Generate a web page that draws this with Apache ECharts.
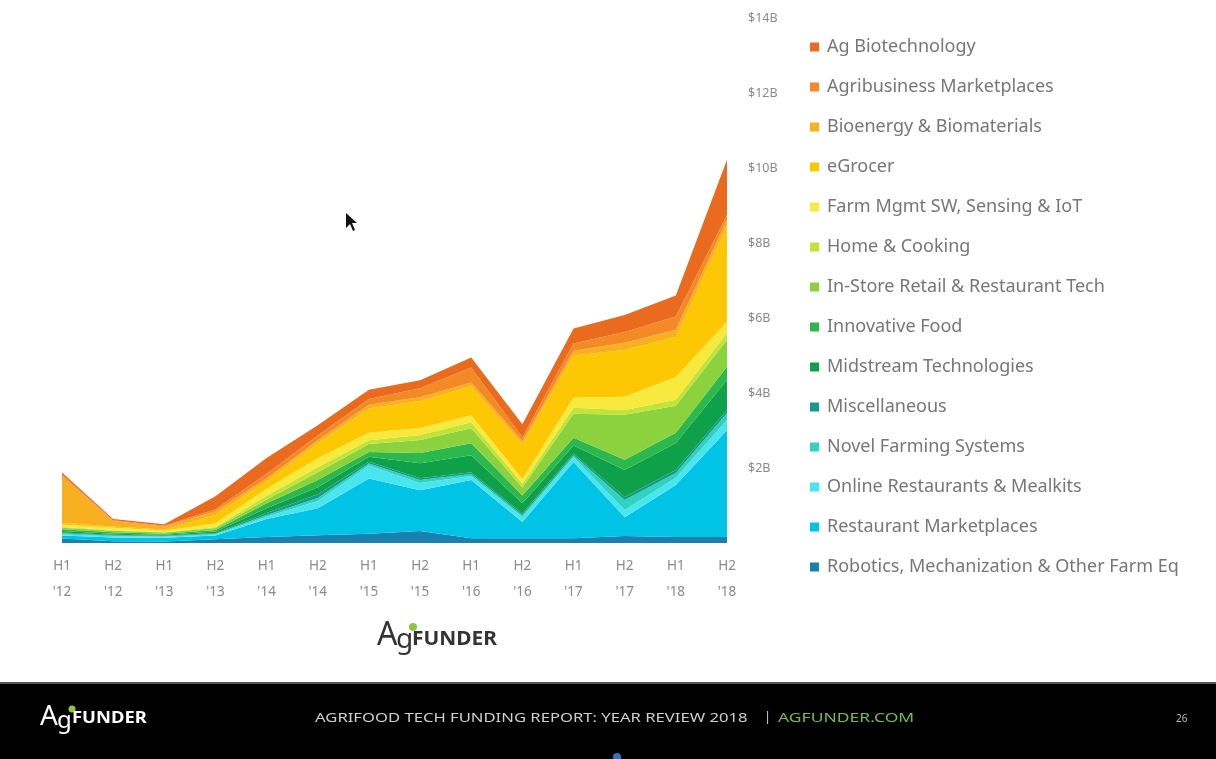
<!DOCTYPE html>
<html>
<head>
<meta charset="utf-8">
<script src="https://cdn.jsdelivr.net/npm/echarts@6/dist/echarts.min.js"></script>
<style>
html,body{margin:0;padding:0;background:#fff;}
#c{width:1216px;height:759px;}
</style>
</head>
<body>
<div id="c"></div>
<script>
// Periods
const periods = ["H1\n'12","H2\n'12","H1\n'13","H2\n'13","H1\n'14","H2\n'14","H1\n'15","H2\n'15","H1\n'16","H2\n'16","H1\n'17","H2\n'17","H1\n'18","H2\n'18"];
// Funding by category, $B (stack order bottom -> top)
const robotics      = [0.12,0.05,0.04,0.10,0.16,0.21,0.25,0.32,0.13,0.13,0.13,0.19,0.16,0.16];
const restaurantMkt = [0.08,0.10,0.10,0.10,0.48,0.72,1.47,1.09,1.55,0.43,2.03,0.50,1.39,2.85];
const onlineRest    = [0.03,0.03,0.03,0.03,0.06,0.19,0.35,0.19,0.11,0.13,0.13,0.19,0.19,0.27];
const novelFarming  = [0.03,0.02,0.02,0.02,0.05,0.08,0.05,0.08,0.05,0.05,0.05,0.27,0.13,0.19];
const misc          = [0.02,0.02,0.01,0.02,0.05,0.10,0.05,0.05,0.05,0.05,0.05,0.08,0.08,0.08];
const midstream     = [0.04,0.03,0.02,0.04,0.13,0.19,0.13,0.40,0.45,0.27,0.21,0.72,0.72,0.80];
const innovFood     = [0.05,0.04,0.03,0.04,0.13,0.19,0.13,0.27,0.32,0.21,0.21,0.27,0.27,0.35];
const inStore       = [0.04,0.04,0.03,0.05,0.10,0.21,0.21,0.35,0.40,0.21,0.64,1.20,0.72,0.72];
const homeCooking   = [0.02,0.02,0.01,0.03,0.10,0.13,0.10,0.13,0.16,0.10,0.16,0.13,0.16,0.19];
const farmMgmt      = [0.06,0.06,0.04,0.10,0.19,0.24,0.20,0.19,0.19,0.13,0.27,0.35,0.61,0.29];
const eGrocer       = [0.05,0.03,0.03,0.22,0.20,0.40,0.65,0.72,0.77,0.93,1.12,1.25,1.07,2.56];
const bioenergy     = [1.25,0.15,0.08,0.10,0.07,0.08,0.10,0.10,0.10,0.08,0.13,0.19,0.19,0.16];
const agribusiness  = [0.04,0.02,0.02,0.05,0.13,0.13,0.15,0.24,0.40,0.10,0.19,0.29,0.35,0.13];
const agBiotech     = [0.05,0.03,0.04,0.35,0.42,0.27,0.25,0.21,0.27,0.35,0.40,0.45,0.56,1.47];
// Axis ticks ($B)
const yTicks = [0,2,4,6,8,10,12,14];

const seriesDefs = [
  ["Robotics, Mechanization & Other Farm Eq", robotics, "#1a80b0"],
  ["Restaurant Marketplaces", restaurantMkt, "#00c3e6"],
  ["Online Restaurants & Mealkits", onlineRest, "#4ae6f0"],
  ["Novel Farming Systems", novelFarming, "#2fd3c2"],
  ["Miscellaneous", misc, "#149a8a"],
  ["Midstream Technologies", midstream, "#0fa04a"],
  ["Innovative Food", innovFood, "#2cb84c"],
  ["In-Store Retail & Restaurant Tech", inStore, "#8cd23e"],
  ["Home & Cooking", homeCooking, "#c2e43a"],
  ["Farm Mgmt SW, Sensing & IoT", farmMgmt, "#f7ea3c"],
  ["eGrocer", eGrocer, "#fdc803"],
  ["Bioenergy & Biomaterials", bioenergy, "#f9b020"],
  ["Agribusiness Marketplaces", agribusiness, "#f48a26"],
  ["Ag Biotechnology", agBiotech, "#ea6a1e"]
];

const chart = echarts.init(document.getElementById('c'), null, {renderer:'canvas'});
const option = {
  backgroundColor: '#ffffff',
  animation: false,
  grid: {left: 62, right: 489, top: 18, bottom: 216, containLabel: false},
  legend: {
    orient: 'vertical',
    left: 805,
    top: 31,
    icon: 'rect',
    itemWidth: 9,
    itemHeight: 9,
    itemGap: 18,
    data: seriesDefs.map(d => d[0]).slice().reverse(),
    textStyle: {fontFamily: 'Noto Sans', fontSize: 18, color: '#767676', lineHeight: 22, padding: [0,0,0,3]}
  },
  xAxis: {
    type: 'category',
    boundaryGap: false,
    data: periods,
    axisLine: {show: false},
    axisTick: {show: false},
    axisLabel: {margin: 10, fontFamily: 'Noto Sans', fontSize: 13.5, color: '#8a8a8a', lineHeight: 26, interval: 0}
  },
  yAxis: {
    type: 'value',
    position: 'right',
    min: yTicks[0],
    max: yTicks[yTicks.length-1],
    interval: 2,
    splitLine: {show: false},
    axisLine: {show: false},
    axisTick: {show: false},
    axisLabel: {
      margin: 21,
      fontFamily: 'Noto Sans', fontSize: 12.5, color: '#8a8a8a',
      formatter: v => v === 0 ? '' : '$' + v + 'B'
    }
  },
  series: seriesDefs.map(d => ({
    name: d[0],
    type: 'line',
    stack: 'total',
    data: d[1],
    showSymbol: false,
    symbol: 'none',
    lineStyle: {width: 0},
    areaStyle: {color: d[2], opacity: 1},
    itemStyle: {color: d[2]},
    emphasis: {disabled: true}
  })),
  graphic: [
    // mouse cursor
    {type: 'polygon', shape: {points: [[346,213],[346,228],[350,224],[353,231],[355,230],[352,223],[357,223]]}, style: {fill: '#111'}},
    // AgFunder logo below chart
    {type: 'text', x: 377, y: 620, style: {text: 'A', font: '32px "Noto Sans"', fill: '#333'}},
    {type: 'text', x: 396, y: 626, style: {text: 'g', font: '28px "Noto Sans"', fill: '#333'}},
    {type: 'circle', shape: {cx: 413, cy: 627, r: 4}, style: {fill: '#8cc63f'}},
    {type: 'text', x: 412, y: 630, scaleX: 1.1, style: {text: 'FUNDER', font: 'bold 19px "Noto Sans"', fill: '#333'}},
    // footer band
    {type: 'rect', shape: {x: 0, y: 683, width: 1216, height: 76}, style: {fill: '#000'}},
    {type: 'rect', shape: {x: 0, y: 682, width: 1216, height: 2}, style: {fill: '#555'}},
    {type: 'text', x: 40, y: 703, style: {text: 'A', font: '28px "Noto Sans"', fill: '#fff'}},
    {type: 'text', x: 57, y: 709, style: {text: 'g', font: '24px "Noto Sans"', fill: '#fff'}},
    {type: 'circle', shape: {cx: 72, cy: 709, r: 3.5}, style: {fill: '#8cc63f'}},
    {type: 'text', x: 72, y: 710, scaleX: 1.15, style: {text: 'FUNDER', font: 'bold 16px "Noto Sans"', fill: '#fff'}},
    {type: 'text', x: 315, y: 712, scaleX: 1.33, style: {text: 'AGRIFOOD TECH FUNDING REPORT: YEAR REVIEW 2018', font: '12.5px "Noto Sans"', fill: '#cfcfcf'}},
    {type: 'text', x: 764, y: 711, style: {text: '|', font: '13px "Noto Sans"', fill: '#cfcfcf'}},
    {type: 'text', x: 778, y: 712, scaleX: 1.40, style: {text: 'AGFUNDER.COM', font: '12.5px "Noto Sans"', fill: '#6cc04a'}},
    {type: 'text', x: 1176, y: 714, style: {text: '26', font: '10px "Noto Sans"', fill: '#bbb'}},
    {type: 'circle', shape: {cx: 617, cy: 757, r: 4}, style: {fill: '#3a6fc0'}}
  ]
};
chart.setOption(option);
</script>
</body>
</html>
